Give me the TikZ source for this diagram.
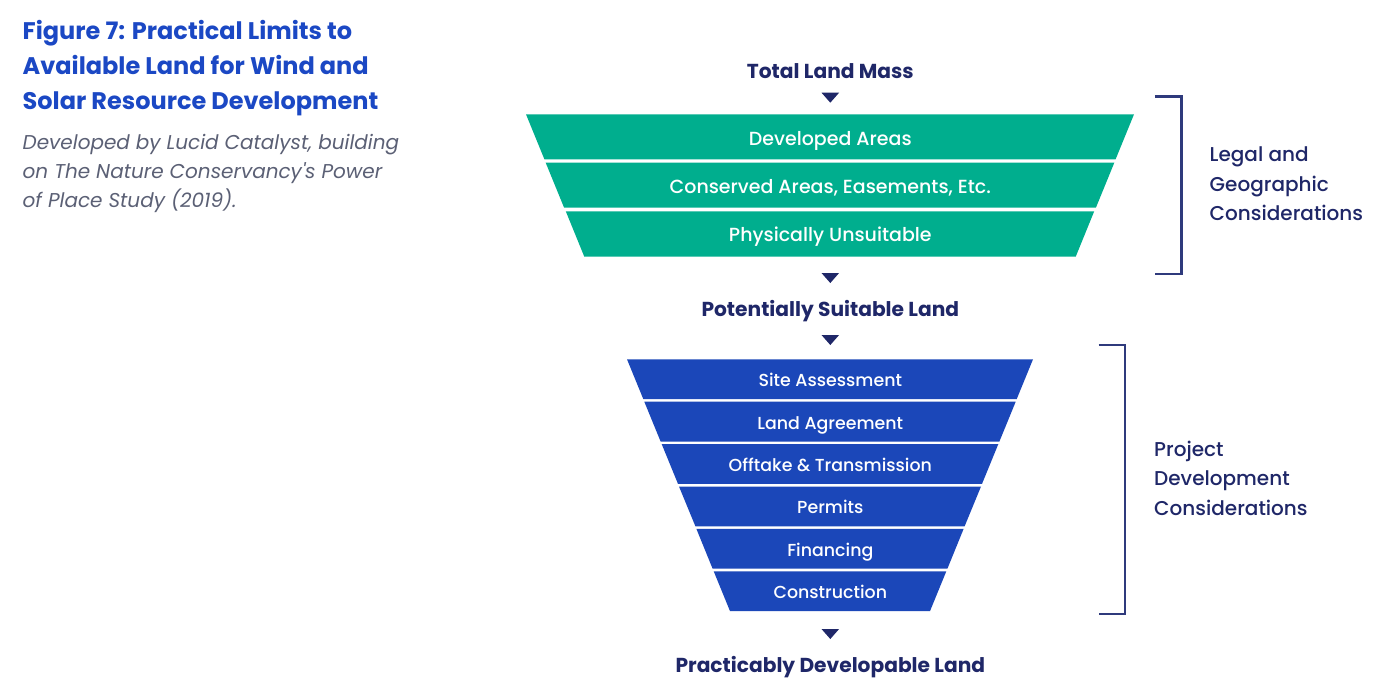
\documentclass[tikz,border=0pt]{standalone}
\usepackage{fontspec}
\setmainfont{Poppins}
\IfFontExistsTF{Poppins Medium}{\newfontfamily\medfont{Poppins Medium}}{%
  \IfFontExistsTF{Poppins-Medium}{\newfontfamily\medfont{Poppins-Medium}}{%
    \newfontfamily\medfont{Poppins}[FakeBold=0.8]}}

\definecolor{titleblue}{HTML}{1B48C4}
\definecolor{notegray}{HTML}{5B6075}
\definecolor{navy}{HTML}{1F2768}
\definecolor{landteal}{HTML}{00AE8E}
\definecolor{projblue}{HTML}{1B47B9}
\definecolor{bracketnavy}{HTML}{2F3A7C}

\begin{document}
\begin{tikzpicture}[x=1pt, y=-1pt,
    heading/.style={anchor=base, inner sep=0pt, text=navy, font=\fontsize{20.2}{24}\selectfont\bfseries},
    bandtext/.style={anchor=base, inner sep=0pt, text=white, font=\fontsize{19}{23}\selectfont\medfont},
    smallband/.style={anchor=base, inner sep=0pt, text=white, font=\fontsize{17.4}{21}\selectfont\medfont},
    sidetext/.style={anchor=base west, inner sep=0pt, align=left, text=navy, font=\fontsize{20}{29.5}\selectfont\medfont},
    bracket/.style={bracketnavy, line width=2.4pt}]
  \fill [white] (0,0) rectangle (1400,696);
  \useasboundingbox (0,0) rectangle (1400,696);

  % title and source note (base = last line)
  \node [anchor=base west, inner sep=0pt, align=left, text=titleblue,
    font=\fontsize{24}{35}\selectfont\bfseries] (title) at (22.5,109.3)
    {Figure 7: Practical Limits to\\Available Land for Wind and\\Solar Resource Development};
  \node [anchor=base west, inner sep=0pt, align=left, text=notegray,
    font=\fontsize{20}{28.7}\selectfont\itshape] (source) at (22.5,207.3)
    {Developed by Lucid Catalyst, building\\on The Nature Conservancy\textquotesingle s Power\\of Place Study (2019).};

  % legal and geographic funnel
  \fill [landteal] (526,114.3) -- (1134,114.3) -- (1115.6,159.3) -- (544.4,159.3) -- cycle;
  \fill [landteal] (545.7,162.7) -- (1114.3,162.7) -- (1095.9,207.7) -- (564.1,207.7) -- cycle;
  \fill [landteal] (565.8,211.3) -- (1094.2,211.3) -- (1075.7,256.7) -- (584.3,256.7) -- cycle;
  \node [bandtext] (devareas) at (830.3,145.5) {Developed Areas};
  \node [bandtext] (conserved) at (830.3,193) {Conserved Areas, Easements, Etc.};
  \node [bandtext] (unsuitable) at (830.3,241.3) {Physically Unsuitable};

  % project development funnel
  \fill [projblue] (627,359.3) -- (1033,359.3) -- (1016.7,399.1) -- (643.3,399.1) -- cycle;
  \fill [projblue] (644.3,401.7) -- (1015.7,401.7) -- (999.4,441.5) -- (660.6,441.5) -- cycle;
  \fill [projblue] (661.7,444.1) -- (998.3,444.1) -- (982,483.9) -- (678,483.9) -- cycle;
  \fill [projblue] (679,486.5) -- (981,486.5) -- (964.6,526.3) -- (695.4,526.3) -- cycle;
  \fill [projblue] (696.4,528.9) -- (963.6,528.9) -- (947.4,568.7) -- (712.6,568.7) -- cycle;
  \fill [projblue] (713.7,571.3) -- (946.3,571.3) -- (930,611.1) -- (730,611.1) -- cycle;
  \node [smallband] (siteassess) at (830.3,386.7) {Site Assessment};
  \node [smallband] (landagree) at (830.3,429.1) {Land Agreement};
  \node [smallband] (offtake) at (830.3,471.5) {Offtake \& Transmission};
  \node [smallband] (permits) at (830.3,513.9) {Permits};
  \node [smallband] (financing) at (830.3,556.3) {Financing};
  \node [smallband] (construction) at (830.3,598.7) {Construction};

  % stage labels
  \node [heading] (totalmass) at (830.3,78) {Total Land Mass};
  \node [heading] (suitable) at (830.3,316.5) {Potentially Suitable Land};
  \node [heading] (developable) at (830.3,672.3) {Practicably Developable Land};

  % arrow heads
  \coordinate (arrowA) at (830.3,92.7);
  \coordinate (arrowB) at (830.3,273);
  \coordinate (arrowC) at (830.3,335);
  \coordinate (arrowD) at (830.3,629);
  \fill [navy] (arrowA) ++(-8.8,0) -- ++(17.6,0) -- ++(-8.8,10) -- cycle;
  \fill [navy] (arrowB) ++(-8.8,0) -- ++(17.6,0) -- ++(-8.8,10) -- cycle;
  \fill [navy] (arrowC) ++(-8.8,0) -- ++(17.6,0) -- ++(-8.8,10) -- cycle;
  \fill [navy] (arrowD) ++(-8.8,0) -- ++(17.6,0) -- ++(-8.8,10) -- cycle;

  % brackets
  \draw [bracket] (1154.8,96.5) -- (1181.4,96.5) -- (1181.4,273.8) -- (1154.8,273.8);
  \draw [bracket] (1098.6,344.8) -- (1125.2,344.8) -- (1125.2,613.8) -- (1098.6,613.8);
  \node [sidetext] (legal) at (1209.5,220.7) {Legal and\\Geographic\\Considerations};
  \node [sidetext] (project) at (1154,515.2) {Project\\Development\\Considerations};
\end{tikzpicture}
\end{document}
